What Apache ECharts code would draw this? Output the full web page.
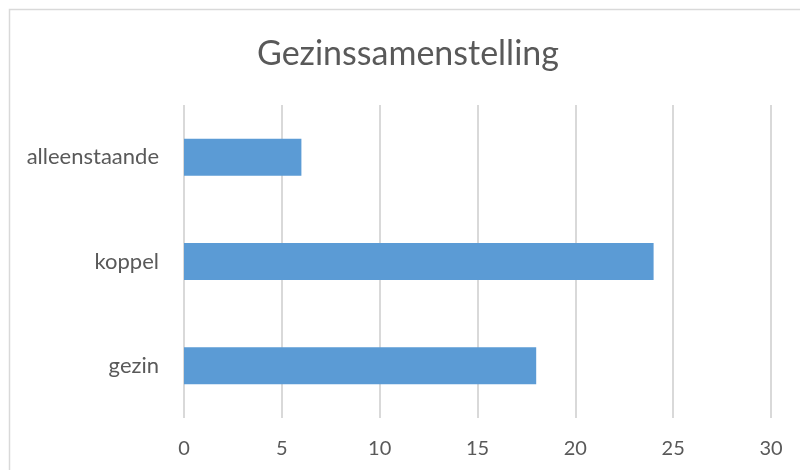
<!DOCTYPE html>
<html><head><meta charset="utf-8">
<script src="https://cdn.jsdelivr.net/npm/echarts@6/dist/echarts.min.js"></script>
<style>html,body{margin:0;padding:0;background:#fff}#c{width:800px;height:470px}</style>
</head><body><div id="c"></div>
<script>
const titleText = 'Gezinssamenstelling';
const categories = ['gezin', 'koppel', 'alleenstaande'];
const values = [18, 24, 6];
const xTicks = [0, 5, 10, 15, 20, 25, 30];

const chart = echarts.init(document.getElementById('c'));
chart.setOption({
  animation: false,
  backgroundColor: '#fff',
  title: {
    text: titleText, left: 257, top: 37, padding: 0,
    textStyle: { fontFamily: 'Lato', fontSize: 34, fontWeight: 'normal', color: '#595959' }
  },
  graphic: [{
    type: 'rect', left: 7, top: 7, silent: true,
    shape: { width: 820, height: 500 },
    style: { fill: 'none', stroke: '#d9d9d9', lineWidth: 1.5 }
  }],
  grid: { left: 184, right: 29, top: 105, bottom: 52, containLabel: false },
  xAxis: {
    type: 'value', min: xTicks[0], max: xTicks[xTicks.length - 1], interval: 5,
    axisLine: { show: false }, axisTick: { show: false },
    splitLine: { show: true, lineStyle: { color: '#d9d9d9', width: 2 } },
    axisLabel: { margin: 21, fontFamily: 'Lato', fontSize: 20, color: '#595959' }
  },
  yAxis: {
    type: 'category', data: categories,
    axisLine: { show: false }, axisTick: { show: false },
    axisLabel: { margin: 25, fontFamily: 'Lato', fontSize: 22, color: '#595959' }
  },
  series: [{
    type: 'bar', data: values, barWidth: 37,
    itemStyle: { color: '#5b9bd5' }
  }]
});
</script></body></html>
